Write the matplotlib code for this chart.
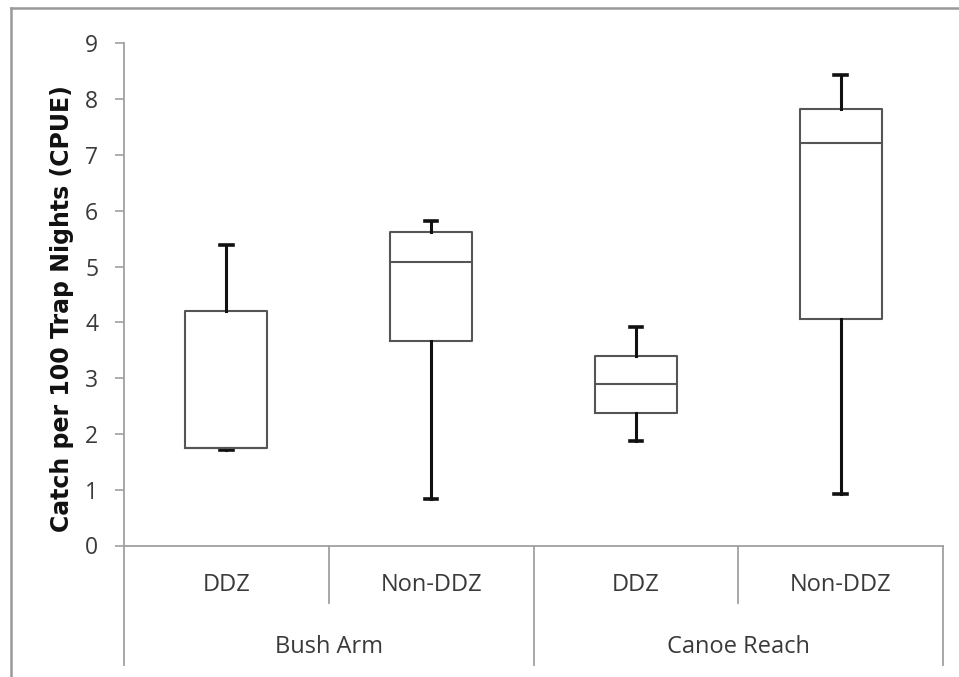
import matplotlib
matplotlib.use("Agg")
import matplotlib.pyplot as plt
from matplotlib.lines import Line2D
import matplotlib.transforms as mtransforms

# ---- data ----
groups = ["Bush Arm", "Canoe Reach"]
zones = ["DDZ", "Non-DDZ", "DDZ", "Non-DDZ"]
whislo = [1.72, 0.84, 1.88, 0.92]
q1 = [1.75, 3.67, 2.38, 4.06]
med = [1.75, 5.08, 2.89, 7.22]
q3 = [4.20, 5.61, 3.40, 7.82]
whishi = [5.39, 5.82, 3.91, 8.43]
yticks = list(range(0, 10))
ylabel = "Catch per 100 Trap Nights (CPUE)"

plt.rcParams['font.family'] = ['Open Sans', 'DejaVu Sans']

W, H = 959, 677
TXT = "#3a3a3a"
fig = plt.figure(figsize=(W / 100, H / 100), dpi=100)
ax = fig.add_axes([124 / W, (H - 545.5) / H, (943 - 124) / W, (545.5 - 43.3) / H])

stats = []
for i in range(len(zones)):
    stats.append(dict(med=med[i], q1=q1[i], q3=q3[i], whislo=whislo[i],
                      whishi=whishi[i], fliers=[]))
pos = list(range(1, len(zones) + 1))
ax.bxp(stats, positions=pos, widths=0.4, capwidths=0.06, showfliers=False,
       boxprops=dict(color="#555555", linewidth=1.5),
       medianprops=dict(color="#555555", linewidth=1.5),
       whiskerprops=dict(color="#111111", linewidth=2.2),
       capprops=dict(color="#111111", linewidth=2.6))

ax.set_xlim(0.5, len(zones) + 0.5)
ax.set_ylim(0, 9)
ax.set_yticks(yticks)
ax.set_yticklabels([str(t) for t in yticks], fontsize=16.5, color=TXT)
ax.tick_params(axis='y', length=6.5, width=1.2, color="#a0a0a0", pad=12)
ax.set_xticks([])
for s in ["top", "right"]:
    ax.spines[s].set_visible(False)
for s in ["left", "bottom"]:
    ax.spines[s].set_color("#a0a0a0")
    ax.spines[s].set_linewidth(1.3)

ax.set_ylabel(ylabel, fontsize=17, fontweight='bold', color="#111111",
              family=['DejaVu Sans'])
ax.yaxis.set_label_coords(-0.061, 0.471)

trans = mtransforms.blended_transform_factory(ax.transData, ax.transAxes)
# category labels
for p, z in zip(pos, zones):
    ax.text(p, -0.079, z, transform=trans, ha='center', va='center',
            fontsize=17, color=TXT)
# group labels
for g_i, g in enumerate(groups):
    ax.text(1.5 + 2 * g_i, -0.202, g, transform=trans, ha='center', va='center',
            fontsize=17, color=TXT)
# dividers
for d in [0.5, 1.5, 2.5, 3.5, 4.5]:
    bottom = -0.238 if d in (0.5, 2.5, 4.5) else -0.115
    ax.add_line(Line2D([d, d], [0, bottom], transform=trans, color="#a0a0a0",
                       linewidth=1.3, clip_on=False))

# outer frame
pix = fig.transFigure
fig.add_artist(Line2D([11 / W, 11 / W], [0, (H - 8) / H], transform=pix,
                      color="#999999", linewidth=1.8))
fig.add_artist(Line2D([11 / W, 1], [(H - 8) / H, (H - 8) / H], transform=pix,
                      color="#999999", linewidth=1.8))

fig.savefig("out.png", dpi=100)
